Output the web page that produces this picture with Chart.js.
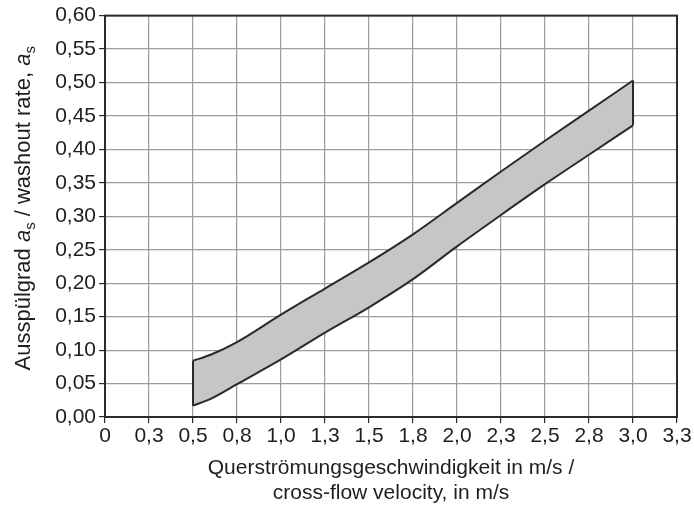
<!DOCTYPE html>
<html>
<head>
<meta charset="utf-8">
<script src="https://cdn.jsdelivr.net/npm/chart.js@4"></script>
<style>
  html, body { margin: 0; padding: 0; background: #fff; }
  #wrap { width: 694px; height: 506px; }
</style>
</head>
<body>
<div id="wrap"><canvas id="band"></canvas></div>
<script>
// values
var velocity = [0.5, 0.6, 0.75, 1.0, 1.25, 1.5, 1.75, 2.0, 2.25, 2.5, 2.75, 3.0];
var upperRate = [0.084, 0.093, 0.112, 0.153, 0.192, 0.231, 0.273, 0.320, 0.367, 0.413, 0.458, 0.503];
var lowerRate = [0.017, 0.027, 0.049, 0.086, 0.126, 0.164, 0.206, 0.255, 0.302, 0.348, 0.392, 0.436];

var xTickLabels = ['0', '0,3', '0,5', '0,8', '1,0', '1,3', '1,5', '1,8', '2,0', '2,3', '2,5', '2,8', '3,0', '3,3'];
var yTickLabels = ['0,00', '0,05', '0,10', '0,15', '0,20', '0,25', '0,30', '0,35', '0,40', '0,45', '0,50', '0,55', '0,60'];

var xTitle = ['Querströmungsgeschwindigkeit in m/s /', 'cross-flow velocity, in m/s'];

function pts(ys) {
    return velocity.map(function (x, i) { return { x: x, y: ys[i] }; });
}
var last = velocity.length - 1;

var font = '"Liberation Sans", Arial, sans-serif';

// frame round the plot + rotated y title with italic a and subscript s
var framePlugin = {
    id: 'frame',
    afterDraw: function (chart) {
        var c = chart.ctx, a = chart.chartArea;
        c.save();
        c.strokeStyle = '#2a2a2a';
        c.lineWidth = 2;
        c.strokeRect(a.left, a.top, a.right - a.left, a.bottom - a.top);

        var parts = [
            ['Ausspülgrad ', 'normal 22px ' + font, 0],
            ['a', 'italic 22px ' + font, 0],
            ['s', 'normal 15px ' + font, 5],
            [' / washout rate, ', 'normal 22px ' + font, 0],
            ['a', 'italic 22px ' + font, 0],
            ['s', 'normal 15px ' + font, 5]
        ];
        var total = 0;
        parts.forEach(function (p) { c.font = p[1]; total += c.measureText(p[0]).width; });
        c.translate(30, (a.top + a.bottom) / 2 - 8);
        c.rotate(-Math.PI / 2);
        c.fillStyle = '#1e1e1e';
        c.textBaseline = 'alphabetic';
        var x = -total / 2;
        parts.forEach(function (p) {
            c.font = p[1];
            c.fillText(p[0], x, p[2]);
            x += c.measureText(p[0]).width;
        });
        c.restore();
    }
};

var ctx = document.getElementById('band').getContext('2d');
var chart = new Chart(ctx, {
    type: 'line',
    data: {
        datasets: [{
            label: 'upper',
            data: pts(upperRate),
            borderColor: '#2a2a2a',
            borderWidth: 2,
            backgroundColor: '#c6c6c8',
            fill: '+1',
            pointRadius: 0,
            cubicInterpolationMode: 'monotone'
        }, {
            label: 'lower',
            data: pts(lowerRate),
            borderColor: '#2a2a2a',
            borderWidth: 2,
            fill: false,
            pointRadius: 0,
            cubicInterpolationMode: 'monotone'
        }, {
            label: 'left edge',
            data: [{ x: velocity[0], y: lowerRate[0] }, { x: velocity[0], y: upperRate[0] }],
            borderColor: '#2a2a2a',
            borderWidth: 2,
            fill: false,
            pointRadius: 0
        }, {
            label: 'right edge',
            data: [{ x: velocity[last], y: lowerRate[last] }, { x: velocity[last], y: upperRate[last] }],
            borderColor: '#2a2a2a',
            borderWidth: 2,
            fill: false,
            pointRadius: 0
        }]
    },
    options: {
        responsive: true,
        maintainAspectRatio: false,
        animation: false,
        layout: { padding: { top: 15, right: 17, left: 0, bottom: 0 } },
        plugins: {
            legend: { display: false },
            tooltip: { enabled: false },
            filler: { drawTime: 'beforeDatasetsDraw' }
        },
        scales: {
            x: {
                type: 'linear',
                min: 0,
                max: 3.25,
                afterFit: function (s) { s.height = 89; },
                afterBuildTicks: function (s) {
                    s.ticks = xTickLabels.map(function (t, i) { return { value: i * 0.25 }; });
                },
                ticks: {
                    autoSkip: false,
                    maxRotation: 0,
                    color: '#1e1e1e',
                    padding: 1,
                    font: { family: font, size: 21 },
                    callback: function (v, i) { return xTickLabels[i]; }
                },
                grid: { color: '#9c9c9c', lineWidth: 1.2, tickLength: 6, tickColor: '#2a2a2a' },
                border: { color: '#2a2a2a', width: 2 },
                title: {
                    display: true,
                    text: xTitle,
                    color: '#1e1e1e',
                    font: { family: font, size: 21, lineHeight: 1.2 },
                    padding: { top: 11, bottom: 0 }
                }
            },
            y: {
                min: 0,
                max: 0.6,
                afterFit: function (s) { s.width = 105; },
                ticks: {
                    stepSize: 0.05,
                    color: '#1e1e1e',
                    padding: 3,
                    font: { family: font, size: 21 },
                    callback: function (v, i) { return yTickLabels[i]; }
                },
                grid: { color: '#9c9c9c', lineWidth: 1.2, tickLength: 6, tickColor: '#2a2a2a' },
                border: { color: '#2a2a2a', width: 2 }
            }
        }
    },
    plugins: [framePlugin]
});
</script>
</body>
</html>
